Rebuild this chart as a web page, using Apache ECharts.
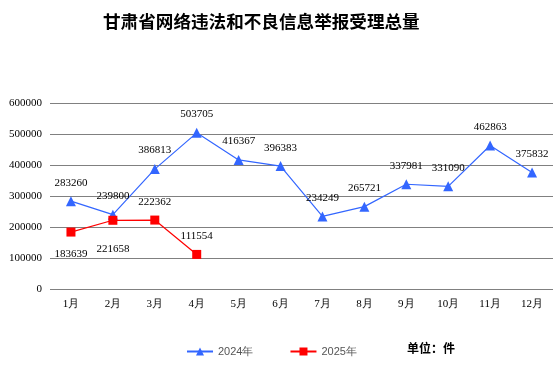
<!DOCTYPE html>
<html>
<head>
<meta charset="utf-8">
<script src="https://cdn.jsdelivr.net/npm/echarts@6/dist/echarts.min.js"></script>
<style>
  html, body { margin: 0; padding: 0; background: #fff; }
  #chart { width: 554px; height: 377px; }
</style>
</head>
<body>
<div id="chart"></div>
<script>
const months = ['1月', '2月', '3月', '4月', '5月', '6月', '7月', '8月', '9月', '10月', '11月', '12月'];
const data2024 = [283260, 239800, 386813, 503705, 416367, 396383, 234249, 265721, 337981, 331090, 462863, 375832];
const data2025 = [183639, 221658, 222362, 111554];
// label above / below for the 2025 points
const pos2025 = ['bottom', 'bottom', 'top', 'top'];
const dist2025 = [12, 19, 8, 8];

const serif = '"Liberation Serif", "DejaVu Serif", serif';
const chart = echarts.init(document.getElementById('chart'));

const option = {
  animation: false,
  title: {
    text: '甘肃省网络违法和不良信息举报受理总量',
    left: 98,
    top: 8,
    textStyle: { fontFamily: '"Noto Sans CJK SC"', fontSize: 17.6, fontWeight: 'bold', color: '#000' }
  },
  legend: {
    left: 181,
    top: 341,
    itemWidth: 26,
    itemHeight: 10,
    itemGap: 36,
    textStyle: { fontFamily: 'sans-serif', fontSize: 11, color: '#555' },
    data: ['2024年', '2025年']
  },
  graphic: [{
    type: 'text',
    left: 407,
    top: 342,
    style: { text: '单位：件', font: 'bold 12px "Noto Sans CJK SC"', fill: '#000' }
  }],
  grid: { left: 50, right: 1, top: 103, bottom: 88 },
  xAxis: {
    type: 'category',
    data: months,
    boundaryGap: true,
    axisLine: { show: false },
    axisTick: { show: false },
    axisLabel: { fontFamily: serif, fontSize: 11, color: '#000', margin: 10 }
  },
  yAxis: {
    type: 'value',
    min: 0,
    max: 600000,
    interval: 100000,
    axisLine: { show: false },
    axisTick: { show: false },
    splitLine: { lineStyle: { color: '#808080', width: 1 } },
    axisLabel: { fontFamily: serif, fontSize: 11, color: '#000', margin: 8, formatter: v => String(v) }
  },
  series: [
    {
      name: '2024年',
      type: 'line',
      data: data2024,
      symbol: 'triangle',
      symbolSize: 10,
      itemStyle: { color: '#3366ff' },
      lineStyle: { color: '#3366ff', width: 1.2 },
      label: {
        show: true,
        position: 'top',
        distance: 8,
        fontFamily: serif,
        fontSize: 11,
        color: '#000'
      }
    },
    {
      name: '2025年',
      type: 'line',
      data: data2025.map((v, i) => ({
        value: v,
        label: { position: pos2025[i], distance: dist2025[i] }
      })),
      symbol: 'rect',
      symbolSize: 9,
      itemStyle: { color: '#ff0000' },
      lineStyle: { color: '#ff0000', width: 1.2 },
      label: {
        show: true,
        fontFamily: serif,
        fontSize: 11,
        color: '#000'
      }
    }
  ]
};

chart.setOption(option);
</script>
</body>
</html>
